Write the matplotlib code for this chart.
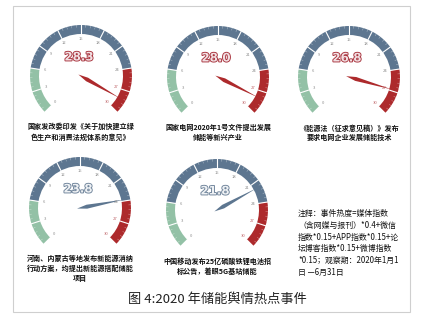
import numpy as np
import matplotlib
matplotlib.use("Agg")
import matplotlib.pyplot as plt
from matplotlib.patches import Wedge, Polygon, Rectangle
import matplotlib.patheffects as pe

plt.rcParams['font.family'] = ['Noto Sans CJK SC', 'DejaVu Sans']

# event heat values (scale 0-30)
values = [28.3, 28.0, 26.8, 23.8, 21.8]
titles = [
    "国家发改委印发《关于加快建立绿\n色生产和消费法规体系的意见》",
    "国家电网2020年1号文件提出发展\n储能等新兴产业",
    "《能源法（征求意见稿）》发布\n要求电网企业发展储能技术",
    "河南、内蒙古等地发布新能源消纳\n行动方案，均提出新能源搭配储能\n项目",
    "中国移动发布25亿磷酸铁锂电池招\n标公告，着眼5G基站储能",
]
tick_values = [0, 3, 6, 9, 12, 15, 18, 21, 24, 27, 30]
band_edges = [0, 6, 24, 30]
band_colors = ['#93c1a6', '#5d7690', '#ad2a2c']
note = ("注释：事件热度=媒体指数\n（含网媒与报刊）*0.4+微信\n指数*0.15+APP指数*0.15+论\n"
        "坛博客指数*0.15+微博指数\n*0.15；观察期：2020年1月1\n日 —6月31日")
caption = "图 4:2020 年储能舆情热点事件"

W, H = 423, 323
centers = [(81, 76), (218, 77), (349, 77), (80, 208), (217, 210)]
R, BAND = 51, 9
VMAX = 30


def ang(v):
    return 225 - v / VMAX * 270


fig = plt.figure(figsize=(W / 100, H / 100), dpi=100)
ax = fig.add_axes([0, 0, 1, 1])
ax.set_xlim(0, W)
ax.set_ylim(0, H)
ax.axis('off')

ax.add_patch(Rectangle((13, H - 312), 397, 306, fill=False, ec='#cfcfcf', lw=0.8))

for (cx, cy_img), val, title in zip(centers, values, titles):
    cy = H - cy_img
    # coloured bands
    for lo, hi, col in zip(band_edges[:-1], band_edges[1:], band_colors):
        ax.add_patch(Wedge((cx, cy), R, ang(hi), ang(lo), width=BAND, fc=col, ec='none'))
    # split lines and minor ticks
    for i in range(0, 51):
        v = i * VMAX / 50
        a = np.radians(ang(v))
        if i % 5 == 0:
            r0, lw, alpha = R - BAND, 0.8, 1.0
        else:
            r0, lw, alpha = R - 2.2, 0.3, 0.6
        ax.plot([cx + r0 * np.cos(a), cx + R * np.cos(a)],
                [cy + r0 * np.sin(a), cy + R * np.sin(a)], color='white',
                lw=lw, alpha=alpha)
    # tick labels
    for t in tick_values:
        a = np.radians(ang(t))
        col = '#c0686c' if t > 24 else '#8a8a8a'
        ax.text(cx + (R - 14) * np.cos(a), cy + (R - 14) * np.sin(a), str(t),
                fontsize=3.0, color=col, ha='center', va='center')
    # pointer
    pcol = band_colors[2] if val >= 24 else band_colors[1]
    a = np.radians(ang(val))
    L = 0.88 * R
    local = np.array([[-3, 0], [7, 2.0], [L, 0], [7, -2.0]])
    rot = np.array([[np.cos(a), -np.sin(a)], [np.sin(a), np.cos(a)]])
    pts = local @ rot.T + [cx, cy]
    ax.add_patch(Polygon(pts, closed=True, fc=pcol, ec='none'))
    # value
    tcol = '#a8323c' if val >= 24 else '#6d8299'
    ax.text(cx - 2, cy + 19, f"{val:.1f}", fontsize=8.5, fontweight='bold',
            color='#f1dfe2' if val >= 24 else '#eef1f4', ha='center', va='center',
            family='DejaVu Sans',
            path_effects=[pe.withStroke(linewidth=1.3, foreground=tcol)])
    # event title
    ax.text(cx, cy - 47, title, fontsize=5.1, fontweight='bold', color='#111111',
            ha='center', va='top', linespacing=1.4)

ax.text(298, H - 209, note, fontsize=5.7, color='#111111', ha='left', va='top',
        linespacing=1.4)
ax.text(217, H - 299, caption, fontsize=9.5, color='#222222', ha='center', va='center')

fig.savefig("out.png", dpi=100)
